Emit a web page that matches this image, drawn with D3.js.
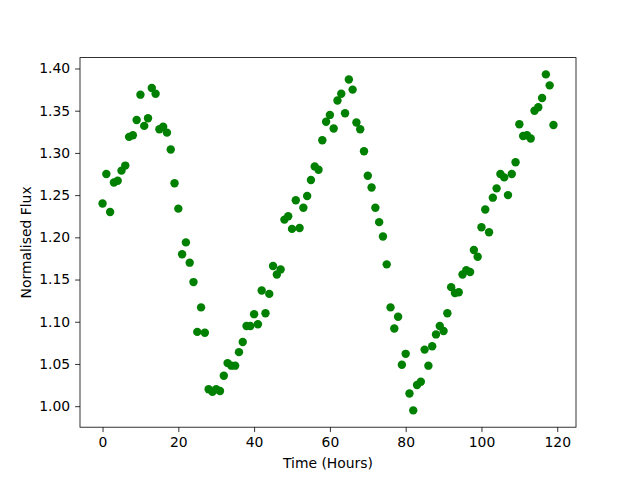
<!DOCTYPE html>
<html>
<head>
<meta charset="utf-8">
<script src="https://cdn.jsdelivr.net/npm/d3@7"></script>
<style>
  body { margin: 0; background: #fff; }
  text { font-family: "DejaVu Sans", sans-serif; }
</style>
</head>
<body>
<div id="chart"></div>
<script>
// Time in hours (one reading per hour)
const hours = d3.range(0, 120);

// Normalised flux
const flux = [
  1.240, 1.275, 1.230, 1.265, 1.267, 1.279, 1.285, 1.319, 1.321, 1.339,
  1.369, 1.332, 1.341, 1.377, 1.370, 1.328, 1.331, 1.324, 1.304, 1.264,
  1.234, 1.180, 1.194, 1.170, 1.147, 1.088, 1.117, 1.087, 1.020, 1.017,
  1.020, 1.018, 1.036, 1.051, 1.048, 1.048, 1.064, 1.076, 1.095, 1.095,
  1.109, 1.097, 1.137, 1.110, 1.133, 1.166, 1.156, 1.162, 1.221, 1.225,
  1.210, 1.244, 1.211, 1.235, 1.249, 1.268, 1.284, 1.280, 1.315, 1.337,
  1.345, 1.329, 1.362, 1.370, 1.347, 1.387, 1.375, 1.336, 1.328, 1.302,
  1.273, 1.259, 1.235, 1.218, 1.201, 1.168, 1.117, 1.092, 1.106, 1.049,
  1.062, 1.015, 0.995, 1.025, 1.029, 1.067, 1.048, 1.071, 1.085, 1.095,
  1.089, 1.110, 1.141, 1.134, 1.135, 1.156, 1.161, 1.159, 1.185, 1.177,
  1.212, 1.233, 1.206, 1.247, 1.258, 1.275, 1.271, 1.250, 1.275, 1.289,
  1.334, 1.320, 1.321, 1.317, 1.350, 1.354, 1.365, 1.393, 1.380, 1.333
];

const xTicks = [0, 20, 40, 60, 80, 100, 120];
const yTicks = [1.00, 1.05, 1.10, 1.15, 1.20, 1.25, 1.30, 1.35, 1.40];

var width = 640;
var height = 480;
var margin = { top: 57.6, right: 64, bottom: 52.8, left: 80 };
var innerW = width - margin.left - margin.right;
var innerH = height - margin.top - margin.bottom;

var svg = d3.select("#chart")
    .append("svg")
    .attr("width", width)
    .attr("height", height);

var g = svg.append("g")
    .attr("transform", "translate(" + margin.left + "," + margin.top + ")");

// matplotlib style 5% padding around the data
var xMin = d3.min(hours), xMax = d3.max(hours);
var xPad = (xMax - xMin) * 0.05;
var yMin = d3.min(flux), yMax = d3.max(flux);
var yPad = (yMax - yMin) * 0.05;

var x = d3.scaleLinear().domain([xMin - xPad, xMax + xPad]).range([0, innerW]);
var y = d3.scaleLinear().domain([yMin - yPad, yMax + yPad]).range([innerH, 0]);

// Points
g.selectAll("circle")
    .data(hours)
    .enter()
    .append("circle")
    .attr("cx", (d) => x(d))
    .attr("cy", (d, i) => y(flux[i]))
    .attr("r", 4.2)
    .attr("fill", "#008000");

// Axes
var xAxis = g.append("g")
    .attr("transform", "translate(0," + innerH + ")")
    .call(d3.axisBottom(x).tickValues(xTicks).tickSize(4.9).tickPadding(4.9).tickFormat(d3.format("d")));

var yAxis = g.append("g")
    .call(d3.axisLeft(y).tickValues(yTicks).tickSize(4.9).tickPadding(4.9).tickFormat(d3.format(".2f")));

[xAxis, yAxis].forEach((a) => {
    a.select(".domain").remove();
    a.selectAll(".tick line").attr("stroke", "#000").attr("stroke-width", 0.8);
    a.selectAll(".tick text").attr("fill", "#000").style("font-size", "13.9px").style("font-family", "DejaVu Sans");
});

// Frame
g.append("rect")
    .attr("width", innerW)
    .attr("height", innerH)
    .attr("fill", "none")
    .attr("stroke", "#000")
    .attr("stroke-width", 0.8);

// Labels
svg.append("text")
    .attr("x", margin.left + innerW / 2)
    .attr("y", 468)
    .attr("text-anchor", "middle")
    .style("font-size", "13.9px")
    .text("Time (Hours)");

svg.append("text")
    .attr("transform", "translate(31," + (margin.top + innerH / 2) + ") rotate(-90)")
    .attr("text-anchor", "middle")
    .style("font-size", "13.9px")
    .text("Normalised Flux");
</script>
</body>
</html>
